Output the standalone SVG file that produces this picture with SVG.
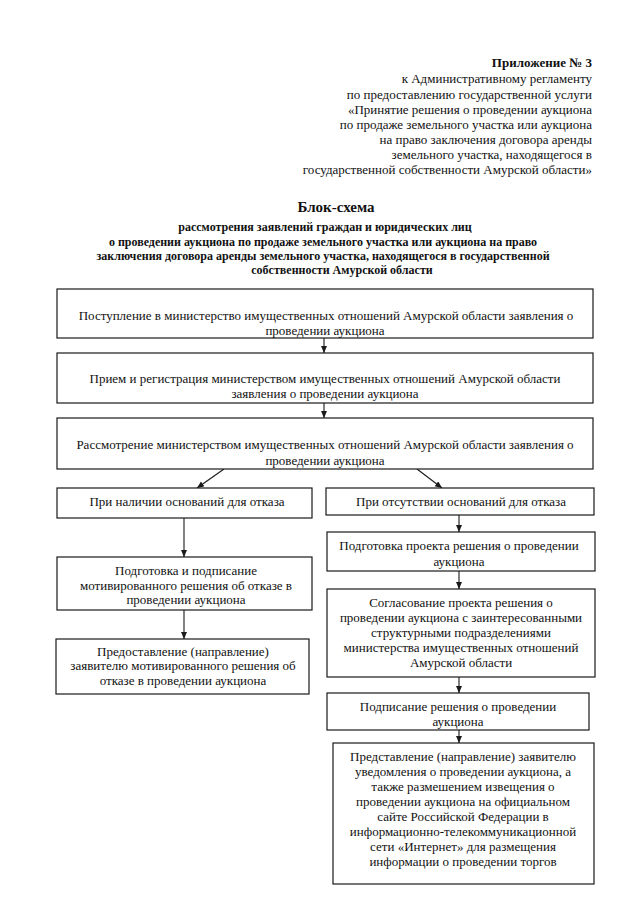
<svg xmlns="http://www.w3.org/2000/svg" width="639" height="905" viewBox="0 0 639 905">
<style>
  text { font-family: "Liberation Serif", "Times New Roman", serif; fill: #111; }
  .hdr { font-size: 13px; text-anchor: end; }
  .hdrb { font-size: 13px; text-anchor: end; font-weight: bold; }
  .ttl { font-size: 15px; font-weight: bold; text-anchor: middle; }
  .sub { font-size: 12px; font-weight: bold; text-anchor: middle; }
  .t { font-size: 13px; text-anchor: middle; }
  .box { fill: #fff; stroke: #1a1a1a; stroke-width: 1.2; }
  .con { stroke: #1a1a1a; stroke-width: 1.1; fill: none; marker-end: url(#ah); }
</style>
<defs>
  <marker id="ah" markerUnits="userSpaceOnUse" markerWidth="8" markerHeight="7" refX="7" refY="3" orient="auto">
    <path d="M0,0 L7,3 L0,6 z" fill="#1a1a1a"/>
  </marker>
</defs>
<rect width="639" height="905" fill="#fff"/>

<g id="header">
  <text class="hdrb" x="592" y="67">Приложение № 3</text>
  <text class="hdr" x="592" y="83">к Административному регламенту</text>
  <text class="hdr" x="592" y="99">по предоставлению государственной услуги</text>
  <text class="hdr" x="592" y="114">«Принятие решения о проведении аукциона</text>
  <text class="hdr" x="592" y="129">по продаже земельного участка или аукциона</text>
  <text class="hdr" x="592" y="144">на право заключения договора аренды</text>
  <text class="hdr" x="592" y="159">земельного участка, находящегося в</text>
  <text class="hdr" x="592" y="174">государственной собственности Амурской области»</text>
</g>

<g id="title">
  <text class="ttl" x="336" y="212">Блок-схема</text>
  <text class="sub" x="325" y="231">рассмотрения заявлений граждан и юридических лиц</text>
  <text class="sub" x="323" y="246">о проведении аукциона по продаже земельного участка или аукциона на право</text>
  <text class="sub" x="323" y="260">заключения договора аренды земельного участка, находящегося в государственной</text>
  <text class="sub" x="342" y="274">собственности Амурской области</text>
</g>

<g id="connectors">
  <line class="con" x1="324" y1="338" x2="324" y2="353"/>
  <line class="con" x1="324" y1="403" x2="324" y2="418"/>
  <line class="con" x1="224" y1="469" x2="197" y2="488"/>
  <line class="con" x1="417" y1="469" x2="442" y2="488"/>
  <line class="con" x1="184" y1="518" x2="184" y2="557"/>
  <line class="con" x1="184" y1="610" x2="184" y2="639"/>
  <line class="con" x1="459" y1="515" x2="459" y2="532"/>
  <line class="con" x1="459" y1="571" x2="459" y2="589"/>
  <line class="con" x1="459" y1="677" x2="459" y2="693"/>
  <line class="con" x1="459" y1="730" x2="459" y2="743"/>
</g>

<g id="n1">
  <rect class="box" x="57" y="289" width="536" height="49"/>
  <text class="t" x="326" y="320">Поступление в министерство имущественных отношений Амурской области заявления о</text>
  <text class="t" x="325" y="335">проведении аукциона</text>
</g>
<g id="n2">
  <rect class="box" x="57" y="353" width="536" height="50"/>
  <text class="t" x="325" y="383">Прием и регистрация министерством имущественных отношений Амурской области</text>
  <text class="t" x="325" y="398">заявления о проведении аукциона</text>
</g>
<g id="n3">
  <rect class="box" x="57" y="418" width="536" height="51"/>
  <text class="t" x="325" y="449">Рассмотрение министерством имущественных отношений Амурской области заявления о</text>
  <text class="t" x="325" y="465">проведении аукциона</text>
</g>

<g id="n4">
  <rect class="box" x="57" y="488" width="255" height="30"/>
  <text class="t" x="187" y="506">При наличии оснований для отказа</text>
</g>
<g id="n5">
  <rect class="box" x="57" y="557" width="255" height="53"/>
  <text class="t" x="186" y="575">Подготовка и подписание</text>
  <text class="t" x="186" y="590">мотивированного решения об отказе в</text>
  <text class="t" x="186" y="604">проведении аукциона</text>
</g>
<g id="n6">
  <rect class="box" x="56" y="639" width="253" height="55"/>
  <text class="t" x="183" y="656">Предоставление (направление)</text>
  <text class="t" x="183" y="670">заявителю мотивированного решения об</text>
  <text class="t" x="183" y="685">отказе в проведении аукциона</text>
</g>

<g id="n7">
  <rect class="box" x="326" y="488" width="268" height="27"/>
  <text class="t" x="461" y="506">При отсутствии оснований для отказа</text>
</g>
<g id="n8">
  <rect class="box" x="327" y="532" width="268" height="39"/>
  <text class="t" x="459" y="550">Подготовка проекта решения о проведении</text>
  <text class="t" x="459" y="566">аукциона</text>
</g>
<g id="n9">
  <rect class="box" x="327" y="589" width="268" height="88"/>
  <text class="t" x="461" y="607">Согласование проекта решения о</text>
  <text class="t" x="461" y="622">проведении аукциона с заинтересованными</text>
  <text class="t" x="461" y="637">структурными подразделениями</text>
  <text class="t" x="461" y="652">министерства имущественных отношений</text>
  <text class="t" x="461" y="667">Амурской области</text>
</g>
<g id="n10">
  <rect class="box" x="327" y="693" width="262" height="37"/>
  <text class="t" x="458" y="711">Подписание решения о проведении</text>
  <text class="t" x="458" y="726">аукциона</text>
</g>
<g id="n11">
  <rect class="box" x="333" y="743" width="261" height="141"/>
  <text class="t" x="463" y="761">Представление (направление) заявителю</text>
  <text class="t" x="463" y="776">уведомления о проведении аукциона, а</text>
  <text class="t" x="463" y="791">также размешением извещения о</text>
  <text class="t" x="463" y="806">проведении аукциона на официальном</text>
  <text class="t" x="463" y="821">сайте Российской Федерации в</text>
  <text class="t" x="463" y="836">информационно-телекоммуникационной</text>
  <text class="t" x="463" y="851">сети «Интернет» для размещения</text>
  <text class="t" x="463" y="866">информации о проведении торгов</text>
</g>
</svg>
